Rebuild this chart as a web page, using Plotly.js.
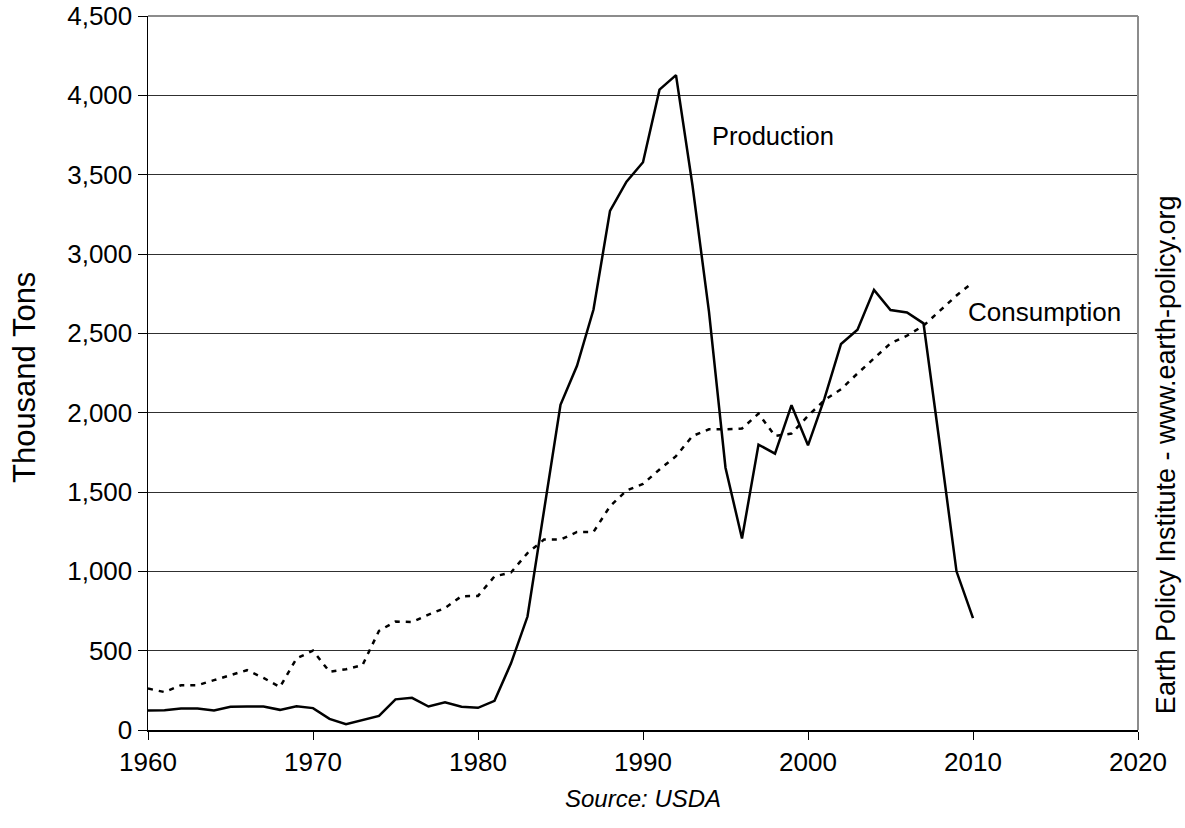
<!DOCTYPE html>
<html>
<head>
<meta charset="utf-8">
<script src="https://cdn.plot.ly/plotly-3.0.1.min.js"></script>
<style>
  html, body { margin: 0; padding: 0; background: #ffffff; }
  #chart { width: 1185px; height: 828px; }
</style>
</head>
<body>
<div id="chart"></div>
<script>
// Years 1960-2010
const years = [];
for (let y = 1960; y <= 2010; y++) years.push(y);

// Production (thousand tons)
const production = [
  123, 125, 136, 136, 123, 146, 148, 148, 127, 150,
  138, 70, 36, 61, 89, 193, 203, 148, 174, 146,
  140, 184, 420, 715, 1380, 2050, 2295, 2650, 3272, 3456,
  3578, 4036, 4127, 3432, 2635, 1653, 1207, 1799, 1742, 2047,
  1794, 2090, 2433, 2523, 2774, 2647, 2631, 2563, 1790, 1000,
  705
];

// Consumption (thousand tons)
const consumption = [
  261, 239, 282, 282, 314, 345, 377, 328, 271, 451,
  500, 367, 383, 409, 625, 684, 680, 727, 769, 843,
  845, 968, 993, 1115, 1200, 1200, 1248, 1248, 1410, 1509,
  1551, 1642, 1726, 1853, 1895, 1895, 1900, 1994, 1853, 1868,
  1980, 2079, 2148, 2247, 2344, 2437, 2485, 2548, 2643, 2738,
  2822
];

const seriesNames = ["Production", "Consumption"];
const yTitle = "Thousand Tons";
const sourceText = "Source: USDA";
const creditText = "Earth Policy Institute - www.earth-policy.org";

const FONT = "Liberation Sans, Arial, sans-serif";

const traces = [
  {
    x: years, y: production, name: seriesNames[0], type: "scatter", mode: "lines",
    line: { color: "#000000", width: 2.5 }, hoverinfo: "x+y"
  },
  {
    x: years, y: consumption, name: seriesNames[1], type: "scatter", mode: "lines",
    line: { color: "#000000", width: 2.5, dash: "5px,6px" }, hoverinfo: "x+y"
  }
];

const layout = {
  width: 1185, height: 828,
  margin: { l: 148, r: 47, t: 16, b: 98 },
  paper_bgcolor: "#ffffff", plot_bgcolor: "#ffffff",
  showlegend: false,
  font: { family: FONT, size: 26, color: "#000000" },
  xaxis: {
    range: [1960, 2020], dtick: 10, tick0: 1960,
    showgrid: false, zeroline: false,
    showline: true, linecolor: "#000000", linewidth: 1.5,
    ticks: "outside", ticklen: 8, tickcolor: "#000000", tickwidth: 1,
    tickfont: { family: FONT, size: 26, color: "#000000" }
  },
  yaxis: {
    range: [0, 4500], dtick: 500, tick0: 0,
    tickformat: ",d",
    showgrid: true, gridcolor: "#303030", gridwidth: 1,
    zeroline: false,
    showline: true, linecolor: "#000000", linewidth: 1.5,
    ticks: "outside", ticklen: 9, tickcolor: "#000000", tickwidth: 1,
    tickfont: { family: FONT, size: 26, color: "#000000" }
  },
  shapes: [
    { type: "line", xref: "paper", yref: "paper", x0: 0, x1: 1, y0: 1, y1: 1,
      line: { color: "#8c8c8c", width: 2 } },
    { type: "line", xref: "paper", yref: "paper", x0: 1, x1: 1, y0: 0, y1: 1,
      line: { color: "#8c8c8c", width: 2 } }
  ],
  annotations: [
    { text: seriesNames[0], xref: "paper", yref: "paper", x: 0.6313, y: 0.8319,
      xanchor: "center", yanchor: "middle", showarrow: false,
      font: { family: FONT, size: 25.5, color: "#000000" } },
    { text: seriesNames[1], xref: "paper", yref: "paper", x: 0.906, y: 0.5854,
      xanchor: "center", yanchor: "middle", showarrow: false,
      font: { family: FONT, size: 26, color: "#000000" } },
    { text: sourceText, xref: "paper", yref: "paper", x: 0.5, y: -0.0966,
      xanchor: "center", yanchor: "middle", showarrow: false,
      font: { family: FONT, size: 24, color: "#000000", style: "italic" } },
    { text: yTitle, xref: "paper", yref: "paper", x: -0.1242, y: 0.493,
      xanchor: "center", yanchor: "middle", showarrow: false, textangle: -90,
      font: { family: FONT, size: 31, color: "#000000" } },
    { text: creditText, xref: "paper", yref: "paper", x: 1.0283, y: 0.385,
      xanchor: "center", yanchor: "middle", showarrow: false, textangle: -90,
      font: { family: FONT, size: 27, color: "#000000" } }
  ]
};

Plotly.newPlot("chart", traces, layout, { displayModeBar: false, staticPlot: true });
</script>
</body>
</html>
